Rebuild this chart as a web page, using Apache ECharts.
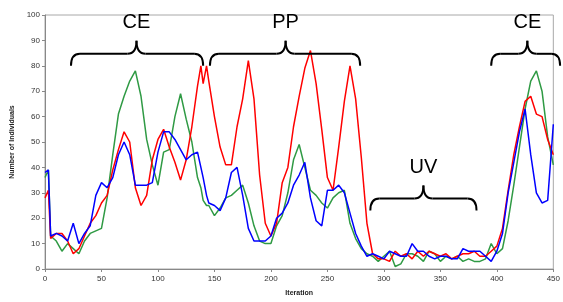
<!DOCTYPE html>
<html>
<head>
<meta charset="utf-8">
<script src="https://cdn.jsdelivr.net/npm/echarts@6/dist/echarts.min.js"></script>
<style>
html,body{margin:0;padding:0;background:#fff}
#chart{width:563px;height:302px}
</style>
</head>
<body>
<div id="chart"></div>
<script>
// iteration numbers where the curves were read
var iterations = [
  0,3,5,10,15,20,25,30,35,40,
  45,50,55,60,65,70,75,80,85,90,
  95,100,105,110,115,120,125,130,135,138,
  140,143,145,150,155,160,165,170,175,180,
  185,190,195,200,205,210,215,220,225,230,
  235,240,245,250,255,260,265,270,275,280,
  285,290,295,300,305,310,315,320,325,330,
  335,340,345,350,355,360,365,370,375,380,
  385,390,395,400,405,410,415,420,425,430,
  435,440,445,450
];
var redValues = [
  28,31,12,14,14,11,6,8,13,18,
  21,26,29,39,47,54,50,32,25,29,
  43,51,55,48,42,35,43,56,72,80,
  73,80,74,60,48,41,41,56,67,82,
  67,37,18,13,18,34,40,56,68,79,
  86,73,55,36,31,48,66,80,67,44,
  18,6,4,4,3,7,5,6,4,7,
  5,7,6,5,6,4,5,6,6,7,
  5,5,7,9,16,31,45,56,66,68,
  61,60,51,45
];
var greenValues = [
  36,39,13,11,7,10,8,6,11,14,
  15,16,28,45,61,68,74,78,68,51,
  41,33,46,47,60,69,59,50,36,32,
  27,25,25,21,24,28,29,31,33,26,
  17,11,10,10,17,21,30,43,49,40,
  31,29,26,24,28,30,31,18,12,8,
  6,5,3,5,7,1,2,6,6,5,
  3,7,6,3,5,4,5,3,4,3,
  3,4,10,6,8,19,33,48,63,74,
  78,70,52,41
];
var blueValues = [
  38,39,13,14,13,11,18,10,14,17,
  29,34,32,36,45,50,45,33,33,33,
  34,46,54,54,51,47,43,45,46,40,
  36,29,26,25,23,28,38,40,29,16,
  11,11,11,13,20,22,26,33,37,42,
  28,19,17,31,31,33,30,22,14,9,
  5,6,5,4,7,6,5,5,10,7,
  7,5,4,5,5,4,4,8,7,7,
  7,5,3,7,14,30,42,54,63,45,
  30,26,27,57
];

// phase annotations (iteration range, middle, level of the brace ends)
var phaseNames = ['CE', 'PP', 'UV', 'CE'];
var phaseStart = [23, 146, 288, 395];
var phaseEnd = [140, 279, 382, 456];
var phaseMid = [81, 213, 335, 427];
var phaseLevel = [80, 80, 23, 80];

function pairs(vals) {
  return iterations.map(function (x, i) { return [x, vals[i]]; });
}

var myChart = echarts.init(document.getElementById('chart'));

var axisFont = { color: '#333', fontSize: 8, fontFamily: 'Liberation Sans' };

var option = {
  animation: false,
  backgroundColor: '#fff',
  grid: {
    left: 45, right: 7, top: 15, bottom: 27,
    show: true, borderColor: '#a8a8a8', borderWidth: 1
  },
  xAxis: {
    type: 'value', min: 0, max: 450, interval: 50,
    name: 'Iteration', nameLocation: 'middle', nameGap: 21,
    nameTextStyle: { fontSize: 7, fontWeight: 'bold', color: '#222', fontFamily: 'Liberation Sans' },
    axisLine: { show: true, lineStyle: { color: '#888' } },
    axisTick: { show: true, length: 3, lineStyle: { color: '#888' } },
    axisLabel: Object.assign({ margin: 6 }, axisFont),
    splitLine: { show: false }
  },
  yAxis: {
    type: 'value', min: 0, max: 100, interval: 10,
    name: 'Number of Individuals', nameLocation: 'middle', nameGap: 26,
    nameTextStyle: { fontSize: 7, fontWeight: 'bold', color: '#222', fontFamily: 'Liberation Sans' },
    axisLine: { show: true, lineStyle: { color: '#888' } },
    axisTick: { show: true, length: 3, lineStyle: { color: '#888' } },
    axisLabel: Object.assign({ margin: 5 }, axisFont),
    splitLine: { show: false }
  },
  series: [
    { type: 'line', data: pairs(greenValues), showSymbol: false, lineStyle: { color: '#2f9a44', width: 1.5 }, itemStyle: { color: '#2f9a44' } },
    { type: 'line', data: pairs(redValues), showSymbol: false, lineStyle: { color: '#ff0000', width: 1.5 }, itemStyle: { color: '#ff0000' } },
    { type: 'line', data: pairs(blueValues), showSymbol: false, lineStyle: { color: '#0000ff', width: 1.5 }, itemStyle: { color: '#0000ff' } }
  ]
};
myChart.setOption(option);

// braces drawn over the plot
var braceStyle = { stroke: '#000', fill: null, lineWidth: 2 };
function curve(xa, ya, cx, cy, xb, yb) {
  return { type: 'bezierCurve', z: 100, shape: { x1: xa, y1: ya, cpx1: cx, cpy1: cy, x2: xb, y2: yb }, style: braceStyle };
}
function seg(xa, ya, xb, yb) {
  return { type: 'line', z: 100, shape: { x1: xa, y1: ya, x2: xb, y2: yb }, style: braceStyle };
}
var graphics = [];
for (var i = 0; i < phaseNames.length; i++) {
  var p1 = myChart.convertToPixel({ gridIndex: 0 }, [phaseStart[i], phaseLevel[i]]);
  var p2 = myChart.convertToPixel({ gridIndex: 0 }, [phaseEnd[i], phaseLevel[i]]);
  var pm = myChart.convertToPixel({ gridIndex: 0 }, [phaseMid[i], phaseLevel[i]]);
  var y = p1[1], x1 = p1[0], x2 = p2[0], xm = pm[0];
  var r = 9, h = 12, t = 25, yh = y - h;
  graphics.push(curve(x1, y, x1, yh, x1 + r, yh));
  graphics.push(seg(x1 + r, yh, xm - r, yh));
  graphics.push(curve(xm - r, yh, xm, yh, xm, y - t));
  graphics.push(curve(xm, y - t, xm, yh, xm + r, yh));
  graphics.push(seg(xm + r, yh, x2 - r, yh));
  graphics.push(curve(x2 - r, yh, x2, yh, x2, y));
  graphics.push({
    type: 'text', z: 100,
    x: xm, y: y - 43,
    style: {
      text: phaseNames[i], fill: '#000',
      font: '20px "Liberation Sans"',
      align: 'center', verticalAlign: 'middle'
    }
  });
}
myChart.setOption({ graphic: graphics });
</script>
</body>
</html>
